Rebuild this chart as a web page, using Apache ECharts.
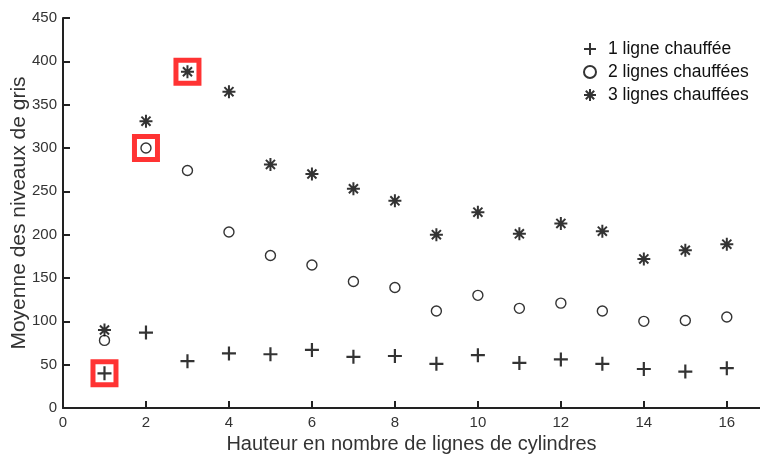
<!DOCTYPE html>
<html><head><meta charset="utf-8">
<script src="https://cdn.jsdelivr.net/npm/echarts@6/dist/echarts.min.js"></script>
<style>html,body{margin:0;padding:0;background:#fff}#c{width:760px;height:460px}</style>
</head><body><div id="c"></div>
<script>
const heights = [1,2,3,4,5,6,7,8,9,10,11,12,13,14,15,16];
const oneLine = [40,87,54,63,62,67,59,60,51,61,52,56,51,45,42,46];
const twoLines = [78,300,274,203,176,165,146,139,112,130,115,121,112,100,101,105];
const threeLines = [90,331,388,365,281,270,253,239,200,226,201,213,204,172,182,189];
const names = ['1 ligne chauffée','2 lignes chauffées','3 lignes chauffées'];
const xTicks = [0,2,4,6,8,10,12,14,16];
const yTicks = [0,50,100,150,200,250,300,350,400,450];
// highlighted points: index into each series
const highlighted = [[0, oneLine],[1, twoLines],[2, threeLines]];

const plusPath = 'path://M5 0 L5 10 M0 5 L10 5';
const starPath = 'path://M5 0 L5 10 M0 5 L10 5 M1.5 1.5 L8.5 8.5 M8.5 1.5 L1.5 8.5';
const font = 'Liberation Sans, Arial, sans-serif';
const ink = '#222';

const pts = arr => heights.map((h,i)=>[h,arr[i]]);
const chart = echarts.init(document.getElementById('c'), null, {renderer:'canvas'});
chart.setOption({
  animation:false,
  backgroundColor:'#fff',
  grid:{left:63,right:0,top:18,bottom:52,containLabel:false,outerBoundsMode:'none'},
  xAxis:{type:'value',min:0,max:16.8,interval:2,
    name:'Hauteur en nombre de lignes de cylindres',nameLocation:'middle',nameGap:26,
    nameMoveOverlap:false,
    nameTextStyle:{fontFamily:font,fontSize:20,color:'#333'},
    axisLine:{lineStyle:{color:ink,width:2}},
    axisTick:{inside:true,length:7,lineStyle:{color:ink,width:2}},
    axisLabel:{fontFamily:font,fontSize:15,color:'#333',margin:7,showMaxLabel:false,
      formatter:v=>xTicks.includes(v)?String(v):''},
    splitLine:{show:false}},
  yAxis:{type:'value',min:0,max:450,interval:50,
    name:'Moyenne des niveaux de gris',nameLocation:'middle',nameGap:33,
    nameMoveOverlap:false,
    nameTextStyle:{fontFamily:font,fontSize:21,color:'#333'},
    axisLine:{show:true,lineStyle:{color:ink,width:2}},
    axisTick:{show:true,inside:true,length:7,lineStyle:{color:ink,width:2}},
    axisLabel:{fontFamily:font,fontSize:15,color:'#333',margin:6,
      formatter:v=>yTicks.includes(v)?String(v):''},
    splitLine:{show:false}},
  legend:{orient:'vertical',left:583,top:40,padding:0,itemGap:5,itemWidth:14,itemHeight:12,
    data:names,textStyle:{fontFamily:font,fontSize:17.5,color:'#111',padding:[0,0,0,6]}},
  series:[
    {type:'scatter',name:'hl',data:highlighted.map(([i,arr])=>[heights[i],arr[i]]),
      symbol:'rect',symbolSize:23,silent:true,z:1,
      itemStyle:{color:'#fff',borderColor:'#f00',borderWidth:5}},
    {type:'scatter',name:names[0],data:pts(oneLine),symbol:plusPath,symbolSize:14,z:3,
      itemStyle:{color:'transparent',borderColor:'#000',borderWidth:2.2}},
    {type:'scatter',name:names[1],data:pts(twoLines),symbol:'circle',symbolSize:10,z:3,
      itemStyle:{color:'transparent',borderColor:'#000',borderWidth:1.4}},
    {type:'scatter',name:names[2],data:pts(threeLines),symbol:starPath,symbolSize:13,z:3,
      itemStyle:{color:'transparent',borderColor:'#000',borderWidth:2}}
  ]
});
</script></body></html>
